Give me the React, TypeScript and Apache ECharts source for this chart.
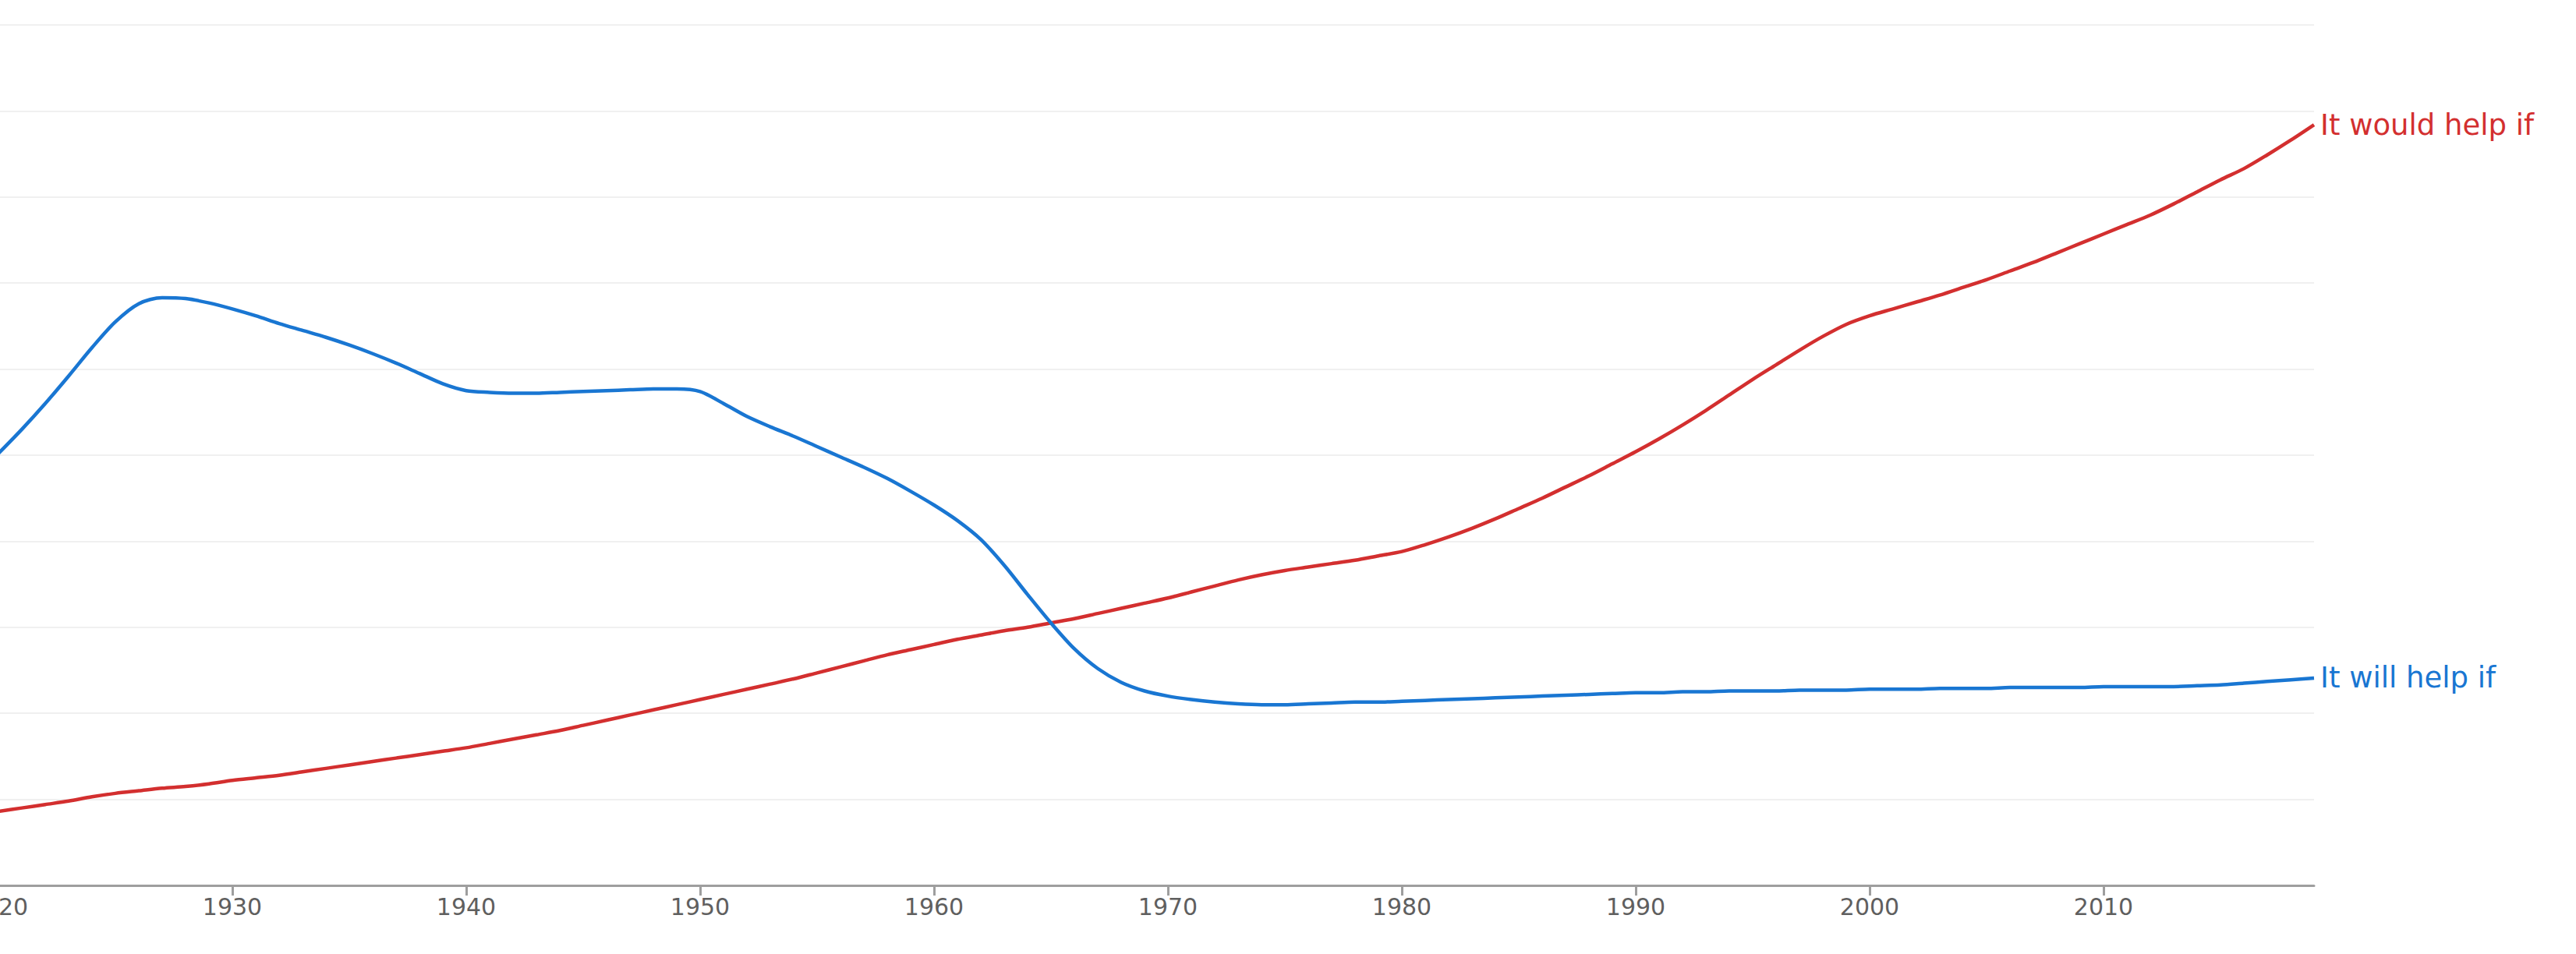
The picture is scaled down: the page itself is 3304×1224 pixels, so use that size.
import React, { useEffect, useRef } from "react";
import * as echarts from "echarts";

const years: string[] = [];
for (let y = 1920; y <= 2019; y++) years.push(String(y));

const wouldHelpIf = [
  0.86, 0.90, 0.94, 0.98, 1.03, 1.07, 1.10, 1.13, 1.15, 1.18,
  1.22, 1.25, 1.28, 1.32, 1.36, 1.40, 1.44, 1.48, 1.52, 1.56,
  1.60, 1.65, 1.70, 1.75, 1.80, 1.86, 1.92, 1.98, 2.04, 2.10,
  2.16, 2.22, 2.28, 2.34, 2.40, 2.47, 2.54, 2.61, 2.68, 2.74,
  2.80, 2.86, 2.91, 2.96, 3.00, 3.05, 3.10, 3.16, 3.22, 3.28,
  3.34, 3.41, 3.48, 3.55, 3.61, 3.66, 3.70, 3.74, 3.78, 3.83,
  3.88, 3.96, 4.05, 4.15, 4.26, 4.38, 4.50, 4.63, 4.76, 4.90,
  5.04, 5.19, 5.35, 5.52, 5.70, 5.88, 6.05, 6.22, 6.38, 6.52,
  6.62, 6.70, 6.78, 6.86, 6.95, 7.04, 7.14, 7.24, 7.35, 7.46,
  7.57, 7.68, 7.79, 7.92, 8.06, 8.20, 8.33, 8.49, 8.66, 8.84,
];

const willHelpIf = [
  5.02, 5.30, 5.60, 5.92, 6.25, 6.55, 6.76, 6.83, 6.82, 6.77,
  6.70, 6.62, 6.53, 6.45, 6.37, 6.28, 6.18, 6.07, 5.95, 5.83,
  5.75, 5.73, 5.72, 5.72, 5.73, 5.74, 5.75, 5.76, 5.77, 5.77,
  5.74, 5.60, 5.45, 5.33, 5.22, 5.10, 4.98, 4.86, 4.73, 4.58,
  4.42, 4.24, 4.02, 3.72, 3.38, 3.05, 2.75, 2.52, 2.36, 2.26,
  2.20, 2.16, 2.13, 2.11, 2.10, 2.10, 2.11, 2.12, 2.13, 2.13,
  2.14, 2.15, 2.16, 2.17, 2.18, 2.19, 2.20, 2.21, 2.22, 2.23,
  2.24, 2.24, 2.25, 2.25, 2.26, 2.26, 2.26, 2.27, 2.27, 2.27,
  2.28, 2.28, 2.28, 2.29, 2.29, 2.29, 2.30, 2.30, 2.30, 2.30,
  2.31, 2.31, 2.31, 2.31, 2.32, 2.33, 2.35, 2.37, 2.39, 2.41,
];

const seriesNames = ["It would help if", "It will help if"];
const seriesColors = ["#d32f2f", "#1976d2"];

const FONT = "'DejaVu Sans', sans-serif";

export default function App() {
  const ref = useRef<HTMLDivElement>(null);

  useEffect(() => {
    if (!ref.current) return;
    const chart = echarts.init(ref.current, undefined, { renderer: "svg" });
    const mk = (i: number, data: number[]) => ({
      name: seriesNames[i],
      type: "line",
      data,
      smooth: 0.3,
      symbol: "none",
      lineStyle: { color: seriesColors[i], width: 4.5 },
      itemStyle: { color: seriesColors[i] },
      endLabel: {
        show: true,
        formatter: seriesNames[i],
        color: seriesColors[i],
        fontSize: 37,
        fontFamily: FONT,
        distance: 8,
      },
    });
    chart.setOption({
      animation: false,
      backgroundColor: "#ffffff",
      grid: {
        left: -2,
        right: 336,
        top: 32,
        bottom: 88,
        containLabel: false,
        outerBoundsMode: "none",
      },
      xAxis: {
        type: "category",
        data: years,
        boundaryGap: false,
        axisLine: { show: true, lineStyle: { color: "#9e9e9e", width: 3 } },
        axisTick: {
          show: true,
          length: 13,
          lineStyle: { color: "#9e9e9e", width: 3 },
          interval: (idx: number) => idx % 10 === 0,
        },
        axisLabel: {
          show: true,
          interval: (idx: number) => idx % 10 === 0,
          color: "#5f5f5f",
          fontSize: 30,
          fontFamily: FONT,
          margin: 12,
          hideOverlap: false,
        },
        splitLine: { show: false },
      },
      yAxis: {
        type: "value",
        min: 0,
        max: 10,
        interval: 1,
        axisLine: { show: false },
        axisTick: { show: false },
        axisLabel: { show: false },
        splitLine: { show: true, lineStyle: { color: "#f0f0f0", width: 2 } },
      },
      series: [mk(0, wouldHelpIf), mk(1, willHelpIf)],
    });
    return () => chart.dispose();
  }, []);

  return (
    <div
      ref={ref}
      style={{ position: "fixed", left: 0, top: 0, width: 3304, height: 1224, background: "#fff" }}
    />
  );
}
